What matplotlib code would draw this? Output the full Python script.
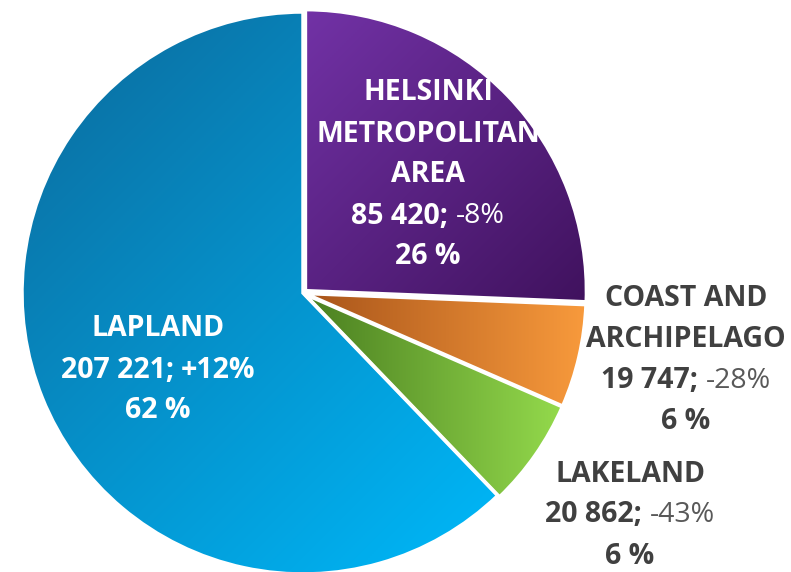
import numpy as np
import matplotlib.pyplot as plt
from matplotlib.colors import LinearSegmentedColormap

# data
regions = ["HELSINKI\nMETROPOLITAN\nAREA", "COAST AND\nARCHIPELAGO", "LAKELAND", "LAPLAND"]
visitors = [85420, 19747, 20862, 207221]
change_pct = [-8, -28, -43, 12]

# style
grad_colors = [("#7232A6", "#40125E"), ("#A8541A", "#F89A3C"),
               ("#4A7E20", "#94DA4C"), ("#0A76AA", "#00B3F3")]
grad_dirs = [(1, -1), (1, 0), (1, 0), (1, -1)]
explode = [0.012, 0.008, 0.008, 0]
inside = [True, False, False, True]
label_px = [(428, 175), (686, 360), (630, 515), (158, 370)]

W, H = 791, 572
cx, cy, R = 303, 293, 281
FONT = "Open Sans"
FS = 20.5
PITCH = 41 / R

fig = plt.figure(figsize=(W / 100, H / 100), dpi=100)
ax = fig.add_axes([0, 0, 1, 1])

wedges, _ = ax.pie(visitors, startangle=90, counterclock=False, radius=1,
                   explode=explode,
                   wedgeprops=dict(facecolor="none", edgecolor="white", linewidth=2.5))
ax.axis("off")

# gradient fill clipped to each wedge, stretched over the wedge's own extent
for w, (c0, c1), (dx, dy) in zip(wedges, grad_colors, grad_dirs):
    w.set_zorder(3)
    cmap = LinearSegmentedColormap.from_list("g", [c0, c1])
    x0, x1 = w.center[0] - 1.05, w.center[0] + 1.05
    y0, y1 = w.center[1] - 1.05, w.center[1] + 1.05
    xx, yy = np.meshgrid(np.linspace(x0, x1, 300), np.linspace(y0, y1, 300))
    g = xx * dx + yy * dy
    verts = w.get_path().vertices
    proj = verts[:, 0] * dx + verts[:, 1] * dy
    im = ax.imshow(g, extent=(x0, x1, y0, y1), origin="lower", cmap=cmap,
                   vmin=proj.min(), vmax=proj.max(),
                   interpolation="bilinear", zorder=2, aspect="auto")
    im.set_clip_path(w)

ax.set_xlim(-cx / R, (W - cx) / R)
ax.set_ylim(-(H - cy) / R, cy / R)
ax.set_aspect("equal", adjustable="box")

renderer = fig.canvas.get_renderer()


def text_w(s, weight):
    t = ax.text(0, 0, s, fontsize=FS, family=FONT, fontweight=weight)
    wpx = t.get_window_extent(renderer).width
    t.remove()
    return wpx / R


space_w = text_w("a a", "bold") - text_w("aa", "bold")
total = sum(visitors)

for name, v, ch, ins, (px, py) in zip(regions, visitors, change_pct, inside, label_px):
    main_col = "white" if ins else "#404040"
    soft_col = "white" if ins else "#595959"
    name_lines = name.split("\n")
    n = len(name_lines) + 2
    x = (px - cx) / R
    ytop = (cy - py) / R + (n - 1) / 2 * PITCH
    for i, ln in enumerate(name_lines):
        ax.text(x, ytop - i * PITCH, ln, ha="center", va="center", fontsize=FS,
                family=FONT, fontweight="bold", color=main_col, zorder=5)
    yv = ytop - len(name_lines) * PITCH
    p1 = f"{v:,}".replace(",", " ") + ";"
    p2 = f"{ch:+d}%"
    w2_weight = "bold" if ch > 0 else "normal"
    w1 = text_w(p1, "bold")
    w2 = text_w(p2, w2_weight)
    left = x - (w1 + space_w + w2) / 2
    ax.text(left, yv, p1, ha="left", va="center", fontsize=FS, family=FONT,
            fontweight="bold", color=main_col, zorder=5)
    ax.text(left + w1 + space_w, yv, p2, ha="left", va="center", fontsize=FS,
            family=FONT, fontweight=w2_weight, color=soft_col, zorder=5)
    pct = round(v / total * 100)
    ax.text(x, yv - PITCH, f"{pct} %", ha="center", va="center", fontsize=FS,
            family=FONT, fontweight="bold", color=main_col, zorder=5)

fig.savefig("out.png", dpi=100)
